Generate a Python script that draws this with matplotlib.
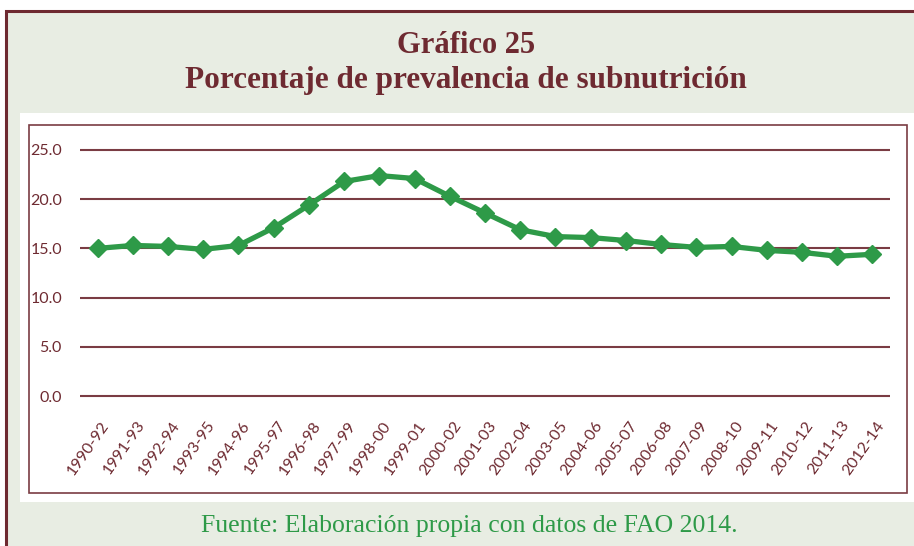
import matplotlib
matplotlib.use("Agg")
import matplotlib.pyplot as plt
from matplotlib.patches import Rectangle
from matplotlib.transforms import ScaledTranslation

periodos = ["1990-92", "1991-93", "1992-94", "1993-95", "1994-96", "1995-97",
            "1996-98", "1997-99", "1998-00", "1999-01", "2000-02", "2001-03",
            "2002-04", "2003-05", "2004-06", "2005-07", "2006-08", "2007-09",
            "2008-10", "2009-11", "2010-12", "2011-13", "2012-14"]
prevalencia = [15.0, 15.3, 15.2, 14.9, 15.3, 17.1, 19.4, 21.8, 22.4, 22.1,
               20.3, 18.6, 16.9, 16.2, 16.1, 15.8, 15.4, 15.1, 15.2, 14.8,
               14.6, 14.2, 14.4]
yticks = [0, 5, 10, 15, 20, 25]

W, H = 914, 546
maroon = "#6e2a31"
grid_c = "#7a3c43"
green = "#2e9a48"
bg = "#e8ede3"

fig = plt.figure(figsize=(W / 100, H / 100), dpi=100)
fig.patch.set_facecolor("white")


def box(x0, y0, x1, y1):
    # pixel box (top-left origin) -> figure fraction rect
    return (x0 / W, 1 - y1 / H), (x1 - x0) / W, (y1 - y0) / H


xy, w, h = box(6, 11, 930, 560)
fig.patches.append(Rectangle(xy, w, h, transform=fig.transFigure, zorder=-10,
                             facecolor=bg, edgecolor=maroon, lw=2.2))
xy, w, h = box(20, 113, 930, 502)
fig.patches.append(Rectangle(xy, w, h, transform=fig.transFigure, zorder=-9,
                             facecolor="white", edgecolor="none"))
xy, w, h = box(29, 125, 907, 493)
fig.patches.append(Rectangle(xy, w, h, transform=fig.transFigure, zorder=-8,
                             facecolor="white", edgecolor=grid_c, lw=1.2))

fig.text(466 / W, 1 - 53 / H, "Gráfico 25", ha="center", va="baseline",
         family="Liberation Serif", weight="bold", fontsize=22, color=maroon)
fig.text(466 / W, 1 - 88 / H, "Porcentaje de prevalencia de subnutrición",
         ha="center", va="baseline", family="Liberation Serif", weight="bold",
         fontsize=22.5, color=maroon)
fig.text(469 / W, 1 - 532 / H, "Fuente: Elaboración propia con datos de FAO 2014.",
         ha="center", va="baseline", family="Liberation Serif", fontsize=18.5,
         color=green)

# axes: x 80..890 px, y 140..406 px (0 at 396, 25 at 150)
ax = fig.add_axes([80 / W, 1 - 406 / H, 810 / W, 266 / H])
ax.set_facecolor("none")
x = list(range(len(periodos)))
ax.plot(x, prevalencia, color=green, lw=3.8, marker="D", markersize=9.5,
        markerfacecolor=green, markeredgecolor=green, zorder=3)
ax.set_xlim(-0.5, len(periodos) - 0.5)
ax.set_ylim(-1.016, 26.016)
for v in yticks:
    ax.axhline(v, color=grid_c, lw=1.5, zorder=1)
ax.set_yticks(yticks)
ax.set_yticklabels([f"{v:.1f}" for v in yticks], family="Lato", fontsize=11.5,
                   color=maroon)
ax.set_xticks(x)
ax.set_xticklabels(periodos, rotation=55, ha="right", va="top",
                   rotation_mode="anchor", family="Lato", fontsize=11.5,
                   color=maroon)
ax.tick_params(length=0, pad=9)
ax.tick_params(axis="y", pad=13)
shift = ScaledTranslation(3 / 100, 0, fig.dpi_scale_trans)
for lbl in ax.get_xticklabels():
    lbl.set_transform(lbl.get_transform() + shift)
for s in ax.spines.values():
    s.set_visible(False)

fig.savefig("out.png", dpi=100)
